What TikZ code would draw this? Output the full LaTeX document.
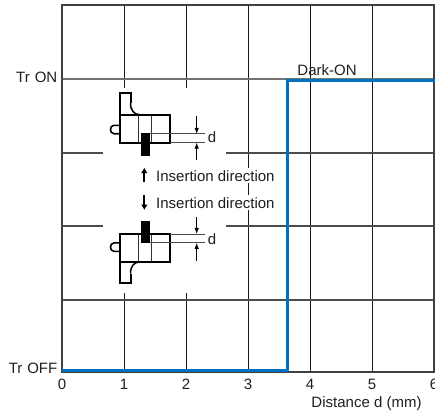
\documentclass[tikz,border=0pt]{standalone}
\usepackage{fontspec}
\setmainfont{Liberation Sans}
\usetikzlibrary{arrows.meta}
\definecolor{blueline}{RGB}{0,112,192}
\newcommand\drawcomponent{%
  % tab with fillet
  \draw[outline] (120.3,-73.6) -- (120.3,-95) -- (130.5,-95) -- (130.5,-85.3);
  \draw[line width=1.5pt] (130.5,-85.3) .. controls (130.5,-78) and (134,-73.6) .. (140,-73.6);
  % small bump
  \draw[line width=1.6pt] (120.3,-63) -- (114,-63) .. controls (109.3,-63) and (109.3,-54.6) .. (114,-54.6) -- (120.3,-54.6);
  % inner lines
  \draw[inner] (138.5,-73.6) -- (138.5,-45.6);
  \draw[inner] (151,-73.6) -- (151,-45.6);
  % body
  \draw[outline] (120.3,-73.6) rectangle (170,-45.6);
  % block
  \fill[black] (140.7,-55) rectangle (150,-32.3);
  % dimension lines
  \draw[thinline] (150,-54.5) -- (205,-54.5);
  \draw[thinline] (170,-45.6) -- (205,-45.6);
  \coordinate (a1) at (196.7,-72.3);
  \coordinate (b1) at (196.7,-54.5);
  \coordinate (a2) at (196.7,-28.3);
  \coordinate (b2) at (196.7,-45.6);
  \draw[dimarrow] (a1) -- (b1);
  \draw[dimarrow] (a2) -- (b2);
}
\begin{document}
\begin{tikzpicture}[x=1pt,y=-1pt,
  lbl/.style={font=\fontsize{15}{18}\selectfont, text=black!88, inner sep=1pt},
  vgrid/.style={line width=1pt, black!90},
  hgrid/.style={line width=1.3pt, black!70},
  framebox/.style={line width=1.6pt, black!75},
  outline/.style={line width=2pt, black, line join=miter},
  inner/.style={line width=1pt, black!80},
  thinline/.style={line width=0.8pt, black!70},
  dimarrow/.style={line width=0.8pt, black, -{Latex[length=6pt,width=4.5pt]}},
  insarrow/.style={line width=2pt, black, -{Latex[length=5.5pt,width=7pt]}},
]
\useasboundingbox (0,0) rectangle (435,416);
% grid
\foreach \x in {124,186,248,310,372} \draw[vgrid] (\x,5) -- (\x,372);
\foreach \y in {153,226,300} \draw[hgrid] (62,\y) -- (434,\y);
\draw[line width=1.5pt, black!55] (62,79) -- (434,79);
\draw[framebox] (62,5) rectangle (434,372);
% white area behind the drawings
\fill[white] (103,87.5) rectangle (226,292.5);
% components
\begin{scope}[shift={(0,188.3)}]
  \drawcomponent
\end{scope}
\begin{scope}[shift={(0,188.3)}, yscale=-1]
  \drawcomponent
\end{scope}
\node[lbl] (d1) at (212,137.5) {d};
\node[lbl] (d2) at (212,239) {d};
% insertion direction labels
\node[lbl, anchor=west, fill=white, inner sep=2pt] (ins1) at (154,175.7) {Insertion direction};
\node[lbl, anchor=west, fill=white, inner sep=2pt] (ins2) at (154,202.8) {Insertion direction};
\coordinate (u1) at (144.3,182.3);
\coordinate (u2) at (144.3,167.7);
\coordinate (w1) at (144.3,195);
\coordinate (w2) at (144.3,210);
\draw[insarrow] (u1) -- (u2);
\draw[insarrow] (w1) -- (w2);
% characteristic
\draw[blueline, line width=3pt] (62,370.5) -- (287.3,370.5) -- (287.3,80) -- (440,80);
\node[lbl] (dark) at (327,70) {Dark-ON};
% axis labels
\node[lbl, anchor=east] (tron) at (58.5,77.5) {Tr\hspace{0.33em}ON};
\node[lbl, anchor=east] (troff) at (58.5,368) {Tr\hspace{0.33em}OFF};
\foreach \x/\t in {62/0,124/1,186/2,248/3,310/4,372/5,434/6}
  \node[lbl] (t\t) at (\x,384.5) {\t};
\node[lbl] (xlab) at (366.5,404) {Distance d (mm)};
\end{tikzpicture}
\end{document}
